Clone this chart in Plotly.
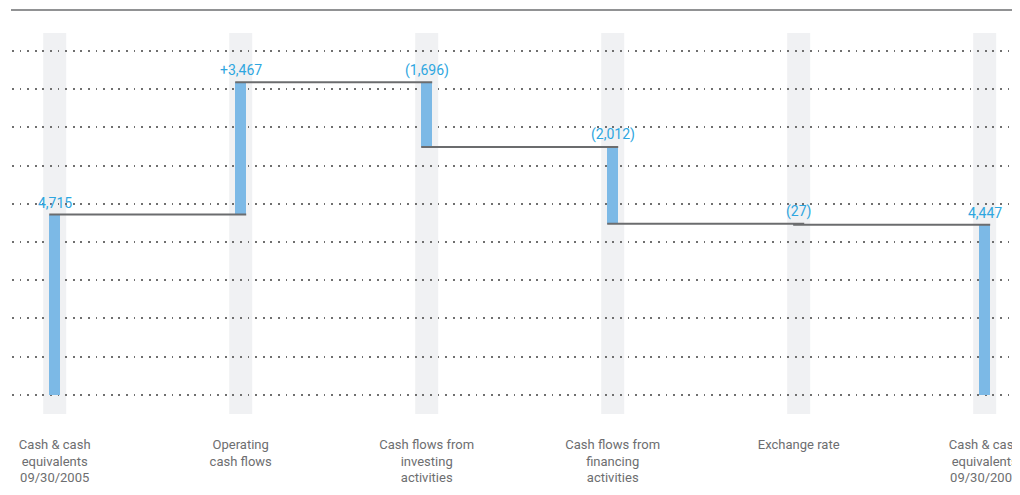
import plotly.graph_objects as go

categories = [
    "Cash & cash<br>equivalents<br>09/30/2005",
    "Operating<br>cash flows",
    "Cash flows from<br>investing<br>activities",
    "Cash flows from<br>financing<br>activities",
    "Exchange rate",
    "Cash & cash<br>equivalents<br>09/30/2006",
]
values = [4715, 3467, -1696, -2012, -27, 4447]
value_labels = ["4,715", "+3,467", "(1,696)", "(2,012)", "(27)", "4,447"]
is_total = [True, False, False, False, False, True]

BAR_BLUE = "#7cb9e6"
LABEL_BLUE = "#2ea6e0"
GREY_TXT = "#6d6e70"
LINE_GREY = "#6b6c6e"
BAND = "#f0f1f3"
FONT = "Roboto"

xs = list(range(len(categories)))
bw = 0.0591

# floating bar bases / heights
bases, heights, levels_after, tops = [], [], [], []
level = 0
for v, tot in zip(values, is_total):
    if tot:
        bases.append(0)
        heights.append(v)
        level = v
        tops.append(v)
    else:
        new = level + v
        bases.append(min(level, new))
        heights.append(abs(v))
        tops.append(max(level, new))
        level = new
    levels_after.append(level)

fig = go.Figure()

fig.add_trace(go.Bar(
    x=xs, y=heights, base=bases, width=bw,
    marker=dict(color=BAR_BLUE, line=dict(width=0)),
    hoverinfo="skip", showlegend=False,
))

# connector lines
cx, cy = [], []
for i in range(len(xs) - 1):
    cx += [xs[i] - bw / 2, xs[i + 1] + bw / 2, None]
    cy += [levels_after[i], levels_after[i], None]
fig.add_trace(go.Scatter(
    x=cx, y=cy, mode="lines",
    line=dict(color=LINE_GREY, width=2),
    hoverinfo="skip", showlegend=False,
))

# column bands
shapes = []
for i in xs:
    shapes.append(dict(
        type="rect", xref="x", yref="paper",
        x0=i - 0.0618, x1=i + 0.0618, y0=0, y1=1,
        fillcolor=BAND, line=dict(width=0),
        layer="below" if i in (0, len(xs) - 1) else "between",
    ))
# top rule
shapes.append(dict(
    type="line", xref="paper", yref="paper",
    x0=-0.001, x1=1, y0=1.0604, y1=1.0604,
    line=dict(color=GREY_TXT, width=1.5),
))

annotations = []
for i, (lab, t) in enumerate(zip(value_labels, tops)):
    annotations.append(dict(
        x=xs[i], y=t, text=lab, showarrow=False,
        xanchor="center", yanchor="middle", yshift=12,
        font=dict(family=FONT, size=14, color=LABEL_BLUE),
    ))

fig.update_layout(
    width=1012, height=476,
    margin=dict(l=4, r=0, t=25, b=70),
    paper_bgcolor="white", plot_bgcolor="white",
    shapes=shapes, annotations=annotations,
    bargap=0,
    font=dict(family=FONT, size=13, color=GREY_TXT),
    xaxis=dict(
        range=[-0.2296, 5.1898],
        tickvals=xs, ticktext=categories,
        ticks="outside", ticklen=18, tickcolor="rgba(0,0,0,0)",
        ticklabeloverflow="allow",
        showgrid=False, zeroline=False, showline=False,
        tickfont=dict(family=FONT, size=13, color=GREY_TXT),
        fixedrange=True,
    ),
    yaxis=dict(
        range=[-505.2, 9468.6],
        tick0=0, dtick=1000,
        showgrid=True, gridcolor="#6f6f6f", gridwidth=1.7,
        griddash="1.7px,5.9px",
        zeroline=False, showline=False, showticklabels=False,
        fixedrange=True,
    ),
)

fig.write_html("out.html")
